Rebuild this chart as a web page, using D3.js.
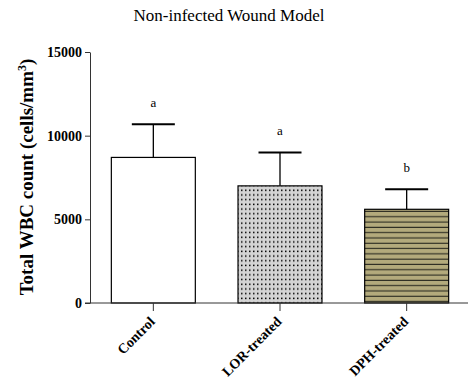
<!DOCTYPE html>
<html>
<head>
<meta charset="utf-8">
<script src="https://cdn.jsdelivr.net/npm/d3@7"></script>
<style>
  body { margin: 0; background: #fff; }
</style>
</head>
<body>
<div class="content"></div>
<script>
// chart data
var groups = ["Control", "LOR-treated", "DPH-treated"];
var means = [8700, 7000, 5600];
var errors = [1980, 2000, 1200];
var letters = ["a", "a", "b"];
var yTicks = [0, 5000, 10000, 15000];

var W = 469, H = 382;
var serif = "'Liberation Serif', 'Times New Roman', Times, serif";

var svg = d3.select(".content").append("svg")
    .attr("width", W)
    .attr("height", H)
    .style("font-family", serif);

// patterns for the treated bars
var defs = svg.append("defs");
var dots = defs.append("pattern")
    .attr("id", "dots")
    .attr("patternUnits", "userSpaceOnUse")
    .attr("width", 4).attr("height", 4.7);
dots.append("rect").attr("width", 4).attr("height", 4.7).attr("fill", "#d4d4d4");
dots.append("rect").attr("x", 1).attr("y", 1.5).attr("width", 1.5).attr("height", 1.5).attr("fill", "#000");

var stripes = defs.append("pattern")
    .attr("id", "stripes")
    .attr("patternUnits", "userSpaceOnUse")
    .attr("width", 8).attr("height", 5.3);
stripes.append("rect").attr("width", 8).attr("height", 5.3).attr("fill", "#b3aa7c");
stripes.append("rect").attr("y", 4.2).attr("width", 8).attr("height", 1.1).attr("fill", "#2a2a20");

var fills = ["#fff", "url(#dots)", "url(#stripes)"];

// scales
var x = d3.scaleBand()
    .domain(groups)
    .range([90, 470])
    .paddingInner(0.337)
    .paddingOuter(0.1685);

var y = d3.scaleLinear()
    .domain([0, 15000])
    .range([303, 52]);

// title
svg.append("text")
    .attr("x", 229)
    .attr("y", 21)
    .attr("text-anchor", "middle")
    .style("font-family", serif)
    .style("font-size", "17px")
    .text("Non-infected Wound Model");

// y axis
var yAxis = svg.append("g")
    .attr("transform", "translate(90,0)")
    .call(d3.axisLeft(y).tickValues(yTicks).tickSize(5).tickSizeOuter(0).tickFormat(d3.format("d")));
yAxis.select(".domain").attr("stroke", "#333");
yAxis.selectAll(".tick line").attr("stroke", "#333");
yAxis.selectAll(".tick text")
    .attr("x", -8)
    .style("font-size", "14px")
    .style("font-weight", "bold")
    .style("font-family", serif)
    .attr("fill", "#000");

// y label
var yl = svg.append("text")
    .attr("transform", "translate(33,177) rotate(-90)")
    .attr("text-anchor", "middle")
    .style("font-family", serif)
    .style("font-size", "19px")
    .style("font-weight", "bold");
yl.append("tspan").text("Total WBC count (cells/mm");
yl.append("tspan").attr("dy", -7).style("font-size", "12px").text("3");
yl.append("tspan").attr("dy", 7).text(")");

// bars
svg.selectAll(".bar")
    .data(groups)
    .enter()
    .append("rect")
      .attr("class", "bar")
      .attr("x", function(d) { return x(d); })
      .attr("y", function(d, i) { return y(means[i]); })
      .attr("width", x.bandwidth())
      .attr("height", function(d, i) { return y(0) - y(means[i]); })
      .attr("fill", function(d, i) { return fills[i]; })
      .attr("stroke", "#000")
      .attr("stroke-width", 1.2);

// error bars (upper only)
var capW = 43;
groups.forEach(function(g, i) {
  var cx = x(g) + x.bandwidth() / 2;
  svg.append("line")
    .attr("x1", cx).attr("x2", cx)
    .attr("y1", y(means[i])).attr("y2", y(means[i] + errors[i]))
    .attr("stroke", "#000").attr("stroke-width", 1.3);
  svg.append("line")
    .attr("x1", cx - capW / 2).attr("x2", cx + capW / 2)
    .attr("y1", y(means[i] + errors[i])).attr("y2", y(means[i] + errors[i]))
    .attr("stroke", "#000").attr("stroke-width", 2);
  svg.append("text")
    .attr("x", cx)
    .attr("y", y(means[i] + errors[i]) - 17)
    .attr("text-anchor", "middle")
    .style("font-family", serif)
    .style("font-size", "13px")
    .text(letters[i]);
});

// x axis
var xAxis = svg.append("g")
    .attr("transform", "translate(0,303)")
    .call(d3.axisBottom(x).tickSize(8).tickSizeOuter(0));
xAxis.select(".domain").remove();
xAxis.append("line")
    .attr("x1", 85).attr("x2", 468)
    .attr("stroke", "#333");
xAxis.selectAll(".tick line").attr("stroke", "#333");
xAxis.selectAll(".tick text")
    .attr("fill", "#000")
    .style("font-size", "14px")
    .style("font-weight", "bold")
    .style("font-family", serif)
    .attr("text-anchor", "end")
    .attr("y", 0)
    .attr("dy", "0.35em")
    .attr("transform", "translate(-1,16) rotate(-45)");
</script>
</body>
</html>
